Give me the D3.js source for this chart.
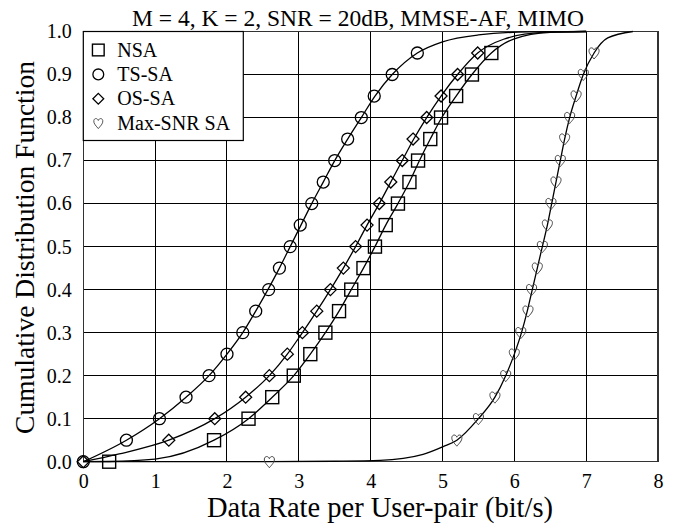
<!DOCTYPE html>
<html><head><meta charset="utf-8">
<script src="https://cdn.jsdelivr.net/npm/d3@7"></script>
<style>body{margin:0;background:#fff}svg{display:block}</style>
</head><body>
<svg id="c" width="674" height="525" style="font-family:'Liberation Serif',serif"></svg>
<script>
const title = "M = 4, K = 2, SNR = 20dB, MMSE-AF, MIMO";
const xLabel = "Data Rate per User-pair (bit/s)";
const yLabel = "Cumulative Distribution Function";
const xTicks = [0,1,2,3,4,5,6,7,8];
const yTicks = [0,0.1,0.2,0.3,0.4,0.5,0.6,0.7,0.8,0.9,1.0];
const seriesNames = ["NSA","TS-SA","OS-SA","Max-SNR SA"];

// marker points [rate, cdf]
const nsaMarkers = [[0.36,0],[1.82,0.05],[2.30,0.10],[2.63,0.15],[2.93,0.20],[3.16,0.25],[3.37,0.30],[3.56,0.35],[3.73,0.40],[3.90,0.45],[4.06,0.50],[4.21,0.55],[4.38,0.60],[4.54,0.65],[4.66,0.70],[4.83,0.75],[4.98,0.80],[5.19,0.85],[5.41,0.90],[5.68,0.95]];
const tsMarkers = [[0,0],[0.60,0.05],[1.06,0.10],[1.43,0.15],[1.75,0.20],[2.00,0.25],[2.22,0.30],[2.40,0.35],[2.58,0.40],[2.73,0.45],[2.88,0.50],[3.02,0.55],[3.18,0.60],[3.34,0.65],[3.50,0.70],[3.68,0.75],[3.87,0.80],[4.05,0.85],[4.30,0.90],[4.65,0.95]];
const osMarkers = [[0,0],[1.19,0.05],[1.83,0.10],[2.26,0.15],[2.59,0.20],[2.84,0.25],[3.05,0.30],[3.25,0.35],[3.44,0.40],[3.62,0.45],[3.79,0.50],[3.95,0.55],[4.12,0.60],[4.28,0.65],[4.44,0.70],[4.59,0.75],[4.78,0.80],[4.98,0.85],[5.21,0.90],[5.49,0.95]];
const maxMarkers = [[2.59,0],[5.20,0.05],[5.50,0.10],[5.73,0.15],[5.88,0.20],[6.00,0.25],[6.09,0.30],[6.19,0.35],[6.24,0.40],[6.32,0.45],[6.39,0.50],[6.46,0.55],[6.51,0.60],[6.58,0.65],[6.64,0.70],[6.70,0.75],[6.77,0.80],[6.86,0.85],[6.96,0.90],[7.11,0.95]];

// curve points [rate, cdf]
const nsaCurve = [[0,0],[0.36,0.0005],[1.0,0.006],[1.82,0.05],[2.30,0.10],[2.63,0.15],[2.93,0.20],[3.16,0.25],[3.37,0.30],[3.56,0.35],[3.73,0.40],[3.90,0.45],[4.06,0.50],[4.21,0.55],[4.38,0.60],[4.54,0.65],[4.68,0.70],[4.83,0.75],[4.99,0.80],[5.19,0.85],[5.41,0.90],[5.68,0.95],[6.0,0.983],[6.5,0.998],[7.0,1.0]];
const tsCurve = [[0,0],[0.60,0.05],[1.06,0.10],[1.43,0.15],[1.75,0.20],[2.00,0.25],[2.22,0.30],[2.40,0.35],[2.57,0.40],[2.73,0.45],[2.88,0.50],[3.03,0.55],[3.18,0.60],[3.34,0.65],[3.50,0.70],[3.68,0.75],[3.87,0.80],[4.06,0.85],[4.30,0.90],[4.65,0.95],[5.0,0.976],[5.5,0.992],[6.2,0.999],[7.0,1.0]];
const osCurve = [[0,0],[0.5,0.018],[1.19,0.05],[1.83,0.10],[2.26,0.15],[2.59,0.20],[2.84,0.25],[3.05,0.30],[3.25,0.35],[3.44,0.40],[3.62,0.45],[3.79,0.50],[3.95,0.55],[4.12,0.60],[4.28,0.65],[4.44,0.70],[4.60,0.75],[4.78,0.80],[4.98,0.85],[5.21,0.90],[5.49,0.95],[5.85,0.982],[6.4,0.998],[7.0,1.0]];
const maxCurve = [[0,0],[2.59,0.0],[3.5,0.001],[4.13,0.003],[4.73,0.017],[5.01,0.035],[5.20,0.05],[5.50,0.10],[5.73,0.15],[5.88,0.20],[6.00,0.25],[6.10,0.30],[6.18,0.35],[6.25,0.40],[6.32,0.45],[6.39,0.50],[6.46,0.55],[6.52,0.60],[6.58,0.65],[6.64,0.70],[6.70,0.75],[6.77,0.80],[6.86,0.85],[6.96,0.90],[7.11,0.95],[7.3,0.985],[7.65,1.0]];

const W = 674, H = 525;
const m = {l:83.3, r:16, t:31.5, b:63.3};
const svg = d3.select("#c");
const font = "'Liberation Serif', serif";
const x = d3.scaleLinear().domain([0,8]).range([m.l, W-m.r]);
const y = d3.scaleLinear().domain([0,1]).range([H-m.b, m.t]);

// grid
svg.append("g").selectAll("line.v").data(xTicks).join("line")
  .attr("x1",d=>x(d)).attr("x2",d=>x(d)).attr("y1",y(0)).attr("y2",y(1))
  .attr("stroke","#000").attr("stroke-width",1).attr("shape-rendering","crispEdges");
svg.append("g").selectAll("line.h").data(yTicks).join("line")
  .attr("x1",x(0)).attr("x2",x(8)).attr("y1",d=>y(d)).attr("y2",d=>y(d))
  .attr("stroke","#000").attr("stroke-width",1).attr("shape-rendering","crispEdges");
svg.append("rect").attr("x",x(0)).attr("y",y(1)).attr("width",x(8)-x(0)).attr("height",y(0)-y(1))
  .attr("fill","none").attr("stroke","#333").attr("stroke-width",1.5).attr("shape-rendering","crispEdges");

// axes labels
const xa = d3.axisBottom(x).tickValues(xTicks).tickSize(0).tickPadding(12).tickFormat(d3.format("d"));
svg.append("g").attr("transform",`translate(0,${y(0)})`).call(xa)
  .attr("font-family",null).attr("font-size",null)
  .call(g=>g.select(".domain").remove())
  .selectAll("text").style("font-family",font).style("font-size","20px").attr("fill","#000");
const ya = d3.axisLeft(y).tickValues(yTicks).tickSize(0).tickPadding(11.5).tickFormat(d3.format(".1f"));
svg.append("g").attr("transform",`translate(${x(0)},0)`).call(ya)
  .attr("font-family",null).attr("font-size",null)
  .call(g=>g.select(".domain").remove())
  .selectAll("text").style("font-family",font).style("font-size","20px").attr("fill","#000");

svg.append("text").attr("x",380).attr("y",516.5).attr("text-anchor","middle")
  .style("font-family",font).style("font-size","28.5px").text(xLabel);
svg.append("text").attr("transform",`translate(34,247.5) rotate(-90)`).attr("text-anchor","middle")
  .style("font-family",font).style("font-size","27.5px").text(yLabel);
svg.append("text").attr("x",358).attr("y",26).attr("text-anchor","middle")
  .style("font-family",font).style("font-size","23.5px").text(title);

// curves
const line = d3.line().x(d=>x(d[0])).y(d=>y(d[1])).curve(d3.curveMonotoneX);
const plot = svg.append("g");
[nsaCurve,tsCurve,osCurve,maxCurve].forEach(c=>{
  plot.append("path").attr("d",line(c)).attr("fill","none").attr("stroke","#000").attr("stroke-width",1.3);
});

// markers
const heartPath = "M0,6 C-2,3.5 -5.5,0.5 -5,-2.8 C-4.6,-5.8 -1,-6 0,-3 C1,-6 4.6,-5.8 5,-2.8 C5.5,0.5 2,3.5 0,6 Z";
function drawMarker(g, type, cx, cy, color, s){
  s = s || 1;
  if(type==="square"){
    g.append("rect").attr("x",cx-6.5*s).attr("y",cy-6.5*s).attr("width",13*s).attr("height",13*s)
      .attr("fill","none").attr("stroke",color).attr("stroke-width",1.4);
  } else if(type==="circle"){
    g.append("circle").attr("cx",cx).attr("cy",cy).attr("r",6*s)
      .attr("fill","none").attr("stroke",color).attr("stroke-width",1.3);
  } else if(type==="diamond"){
    g.append("path").attr("d",`M${cx},${cy-6*s}L${cx+6*s},${cy}L${cx},${cy+6*s}L${cx-6*s},${cy}Z`)
      .attr("fill","none").attr("stroke",color).attr("stroke-width",1.3);
  } else {
    g.append("path").attr("d",heartPath).attr("transform",`translate(${cx},${cy}) scale(${s})`)
      .attr("fill","none").attr("stroke",color).attr("stroke-width",1);
  }
}
const markerSets = [[nsaMarkers,"square","#000"],[tsMarkers,"circle","#000"],[osMarkers,"diamond","#000"],[maxMarkers,"heart","#444"]];
markerSets.forEach(([pts,type,col])=>{
  const g = svg.append("g");
  pts.forEach(p=>drawMarker(g,type,x(p[0]),y(p[1]),col));
});

// legend
const lg = svg.append("g");
lg.append("rect").attr("x",x(0)).attr("y",y(1)).attr("width",160).attr("height",109)
  .attr("fill","#fff").attr("stroke","#000").attr("stroke-width",1.2);
const types = ["square","circle","diamond","heart"];
seriesNames.forEach((n,i)=>{
  const cy = y(1)+18.5+i*24.4;
  drawMarker(lg, types[i], x(0)+15, cy, i===3?"#444":"#000", 0.9);
  lg.append("text").attr("x",x(0)+34).attr("y",cy+6.5).style("font-family",font).style("font-size","20px").text(n);
});
</script>
</body></html>
